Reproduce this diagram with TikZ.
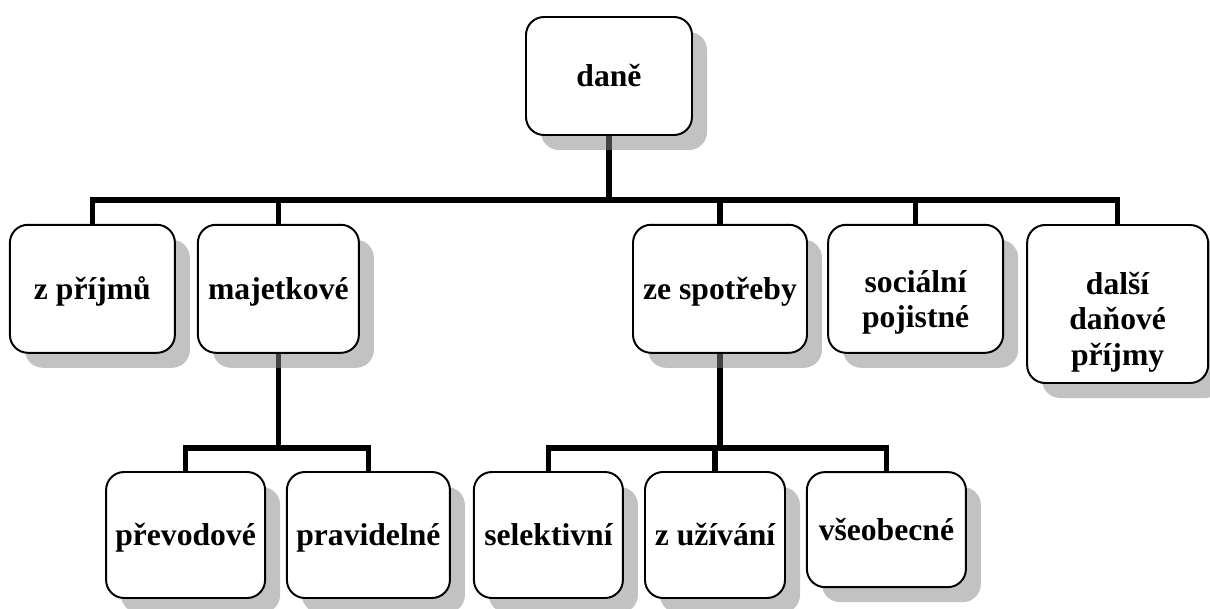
\documentclass[tikz,border=0pt]{standalone}
\usepackage{fontspec}
\setmainfont{Liberation Serif}
\usetikzlibrary{shadows,backgrounds}
\tikzset{
  orgbox/.style={draw, line width=1.4pt, rounded corners=0.45cm, fill=white, align=center,
    font=\fontsize{22.5}{25}\selectfont\bfseries, text height=18pt, text depth=2.4pt,
    drop shadow={shadow xshift=0.375cm, shadow yshift=-0.375cm, fill=black!48, opacity=0.5}},
  bus/.style={line width=4pt}
}
\begin{document}
\begin{tikzpicture}
    \useasboundingbox (0,0) rectangle (30.25,15.2);
    \node[orgbox, minimum width=4.15cm, minimum height=2.95cm] (dane) at (15.225,13.3) {daně};
    \node[orgbox, minimum width=4.125cm, minimum height=3.2cm] (prijmy) at (2.31,7.98) {z příjmů};
    \node[orgbox, minimum width=4.025cm, minimum height=3.2cm] (majetek) at (6.96,7.98) {majetkové};
    \node[orgbox, minimum width=4.35cm, minimum height=3.2cm] (spotreba) at (18.0,7.98) {ze spotřeby};
    \node[orgbox, minimum width=4.375cm, minimum height=3.2cm, text height=60.4pt, text depth=5pt] (socialni) at (22.89,7.98) {sociální\\pojistné};
    \node[orgbox, minimum width=4.525cm, minimum height=3.95cm, text height=91.8pt, text depth=5pt] (dalsi) at (27.94,7.6) {další\\daňové\\příjmy};
    \node[orgbox, minimum width=3.975cm, minimum height=3.15cm] (prevod) at (4.64,1.825) {převodové};
    \node[orgbox, minimum width=4.075cm, minimum height=3.15cm] (pravidel) at (9.21,1.825) {pravidelné};
    \node[orgbox, minimum width=3.725cm, minimum height=3.15cm] (selekt) at (13.71,1.825) {selektivní};
    \node[orgbox, minimum width=3.5cm, minimum height=3.15cm] (uziv) at (17.875,1.825) {z užívání};
    \node[orgbox, minimum width=3.975cm, minimum height=2.875cm] (vseob) at (22.16,1.96) {všeobecné};
    \coordinate (bus1) at (0,10.2);
    \coordinate (bus2) at (0,4.0);
    \begin{scope}[on background layer]
    \draw[bus] (dane.south) -- (dane.south |- bus1);
    \draw[bus] (prijmy.north) |- (dalsi.north |- bus1) -- (dalsi.north);
    \draw[bus] (majetek.north) -- (majetek.north |- bus1);
    \draw[bus] (spotreba.north) -- (spotreba.north |- bus1);
    \draw[bus] (socialni.north) -- (socialni.north |- bus1);
    \draw[bus] (majetek.south) -- (majetek.south |- bus2);
    \draw[bus] (prevod.north) |- (pravidel.north |- bus2) -- (pravidel.north);
    \draw[bus] (spotreba.south) -- (spotreba.south |- bus2);
    \draw[bus] (selekt.north) |- (vseob.north |- bus2) -- (vseob.north);
    \draw[bus] (uziv.north) -- (uziv.north |- bus2);
    \end{scope}
\end{tikzpicture}
\end{document}
